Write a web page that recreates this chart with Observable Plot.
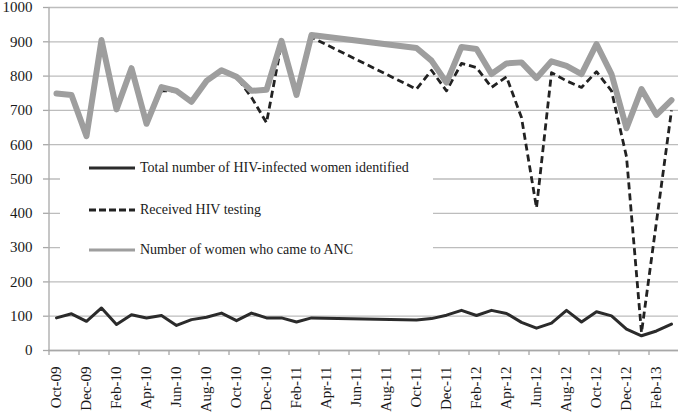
<!DOCTYPE html>
<html>
<head>
<meta charset="utf-8">
<script src="https://cdn.jsdelivr.net/npm/d3@7"></script>
<script src="https://cdn.jsdelivr.net/npm/@observablehq/plot@0.6"></script>
<style>
  html, body { margin: 0; padding: 0; background: #fff; }
  #wrap { position: relative; width: 680px; height: 415px; font-family: "Liberation Serif", "Times New Roman", serif; }
  #legend { position: absolute; left: 60px; top: 152px; width: 373px; height: 113px; background: #fff; }
  .row { position: absolute; left: 29px; height: 20px; display: flex; align-items: center; font-size: 14px; color: #1a1a1a; white-space: nowrap; }
  .row svg { margin-right: 5px; }
</style>
</head>
<body>
<div id="wrap"></div>
<script>
// Month categories (Oct-09 .. Mar-13)
const months = [
  "Oct-09","Nov-09","Dec-09","Jan-10","Feb-10","Mar-10","Apr-10","May-10","Jun-10","Jul-10","Aug-10","Sep-10",
  "Oct-10","Nov-10","Dec-10","Jan-11","Feb-11","Mar-11","Apr-11","May-11","Jun-11","Jul-11","Aug-11","Sep-11",
  "Oct-11","Nov-11","Dec-11","Jan-12","Feb-12","Mar-12","Apr-12","May-12","Jun-12","Jul-12","Aug-12","Sep-12",
  "Oct-12","Nov-12","Dec-12","Jan-13","Feb-13","Mar-13"
];
// Total number of HIV-infected women identified
const hivInfected = [
  95,107,85,124,76,104,95,102,73,90,97,109,
  87,109,95,95,83,95,null,null,null,null,null,null,
  89,93,103,117,102,117,108,82,65,80,117,83,
  113,101,62,43,57,77
];
// Received HIV testing
const receivedTesting = [
  749,745,625,905,703,823,661,757,757,725,786,817,
  798,738,664,895,745,913,null,null,null,null,null,null,
  762,817,757,837,825,767,798,679,416,810,786,767,
  813,757,565,52,null,700
];
// Number of women who came to ANC
const cameToANC = [
  749,745,625,905,703,823,661,768,757,725,786,817,
  798,757,760,903,745,920,null,null,null,null,null,null,
  882,845,781,885,879,806,837,840,794,843,830,806,
  893,806,648,762,687,730
];
const seriesNames = [
  "Total number of HIV-infected women identified",
  "Received HIV testing",
  "Number of women who came to ANC"
];
const yTicks = [0,100,200,300,400,500,600,700,800,900,1000];
const xTickLabels = months.filter((m, i) => i % 2 === 0);

const toRows = (vals) => months.map((m, i) => ({month: m, value: vals[i]})).filter(d => d.value != null);

const gridColor = "#bdbdbd";
const axisColor = "#a8a8a8";

const chart = Plot.plot({
  width: 680,
  height: 415,
  marginLeft: 48,
  marginRight: 2,
  marginTop: 7,
  marginBottom: 65,
  style: {fontFamily: "Liberation Serif, Times New Roman, serif", fontSize: "15px", color: "#1a1a1a", background: "#fff"},
  x: {type: "point", domain: months, padding: 0.5, label: null},
  y: {domain: [0, 1000], label: null},
  marks: [
    Plot.gridY(yTicks, {stroke: gridColor, strokeOpacity: 1, strokeWidth: 1.3}),
    Plot.ruleY([0], {stroke: axisColor, strokeWidth: 1.3}),
    Plot.ruleX([months[0]], {dx: -7.5, stroke: axisColor, strokeWidth: 1.3}),
    Plot.axisY(yTicks, {tickSize: 5, tickFormat: () => "", stroke: axisColor, strokeWidth: 1.3}),
    Plot.axisY(yTicks, {tickSize: 0, tickPadding: 16, tickFormat: d => String(d), fill: "#1a1a1a", fontSize: 15}),
    Plot.axisX(xTickLabels, {tickSize: 5, tickFormat: () => "", dx: -7.5, stroke: axisColor, strokeWidth: 1.3}),
    Plot.axisX(xTickLabels, {tickSize: 0, tickPadding: 16, tickRotate: -90, fill: "#1a1a1a", fontSize: 15}),
    Plot.line(toRows(hivInfected), {x: "month", y: "value", stroke: "#2b2b2b", strokeWidth: 3}),
    Plot.line(toRows(receivedTesting), {x: "month", y: "value", stroke: "#222", strokeWidth: 2.8, strokeDasharray: "7,4", strokeLinecap: "butt"}),
    Plot.line(toRows(cameToANC), {x: "month", y: "value", stroke: "#9e9e9e", strokeWidth: 6})
  ]
});

// enforce tick label size
d3.select(chart).selectAll("text").style("font-size", "15px").style("font-family", "'Liberation Serif', 'Times New Roman', serif");
d3.select(chart).selectAll("g[aria-label]").filter(function() { return /tick label/.test(this.getAttribute("aria-label")); })
  .attr("font-size", 15).style("font-size", "15px");

const wrap = document.getElementById("wrap");
wrap.appendChild(chart);

// Legend
const legend = document.createElement("div");
legend.id = "legend";
const legendStyles = [
  {stroke: "#2b2b2b", width: 3, dash: null},
  {stroke: "#222", width: 2.8, dash: "7,3"},
  {stroke: "#9e9e9e", width: 3, dash: null}
];
const rowTops = [6, 48, 88];
seriesNames.forEach((name, i) => {
  const row = document.createElement("div");
  row.className = "row";
  row.style.top = rowTops[i] + "px";
  const s = legendStyles[i];
  row.innerHTML = `<svg width="46" height="8"><line x1="0" x2="46" y1="4" y2="4" stroke="${s.stroke}" stroke-width="${s.width}" ${s.dash ? `stroke-dasharray="${s.dash}"` : ""}/></svg><span>${name}</span>`;
  legend.appendChild(row);
});
wrap.appendChild(legend);
</script>
</body>
</html>
